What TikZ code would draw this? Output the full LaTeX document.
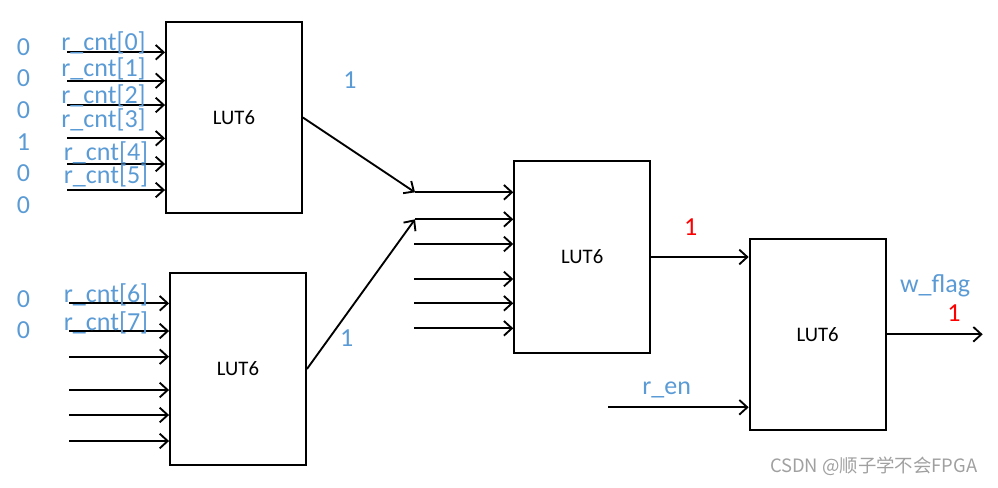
\documentclass[tikz,border=0pt]{standalone}
\usepackage{fontspec}
\setmainfont{Carlito}
\newfontfamily\cjkfont{Noto Sans CJK SC}
\usetikzlibrary{arrows.meta}
\definecolor{sigblue}{RGB}{91,155,213}
\definecolor{wmgray}{RGB}{160,160,160}
\tikzset{
  lutbox/.style={draw, line width=1.4pt, inner sep=0pt, minimum width=102pt, minimum height=143.5pt, font=\fontsize{15.5}{18}\selectfont},
  arr/.style={line width=1.4pt, -{Straight Barb[length=6pt,width=11pt,line width=1.4pt]}},
  sig/.style={inner sep=0pt, text=sigblue, font=\fontsize{19.5}{22}\selectfont},
  bit/.style={inner sep=0pt, text=sigblue, font=\fontsize{19.5}{22}\selectfont},
  redbit/.style={inner sep=0pt, text=red, font=\fontsize{19.5}{22}\selectfont},
}
\begin{document}
\begin{tikzpicture}[x=0.75pt,y=-0.75pt]
\useasboundingbox (0,0) rectangle (998,487);
% boxes
\node[lutbox] (b1) at (234,117.5) {LUT6};
\node[lutbox] (b2) at (238,369) {LUT6};
\node[lutbox] (b3) at (582.2,257) {LUT6};
\node[lutbox] (b4) at (817.6,334.3) {LUT6};

% box1 inputs
\foreach \y [count=\i] in {52.3,80.7,105,138.3,164,190}{
  \coordinate (a\i) at (67,\y);
  \draw[arr] (a\i) -- (a\i -| b1.west);
}
% box2 inputs
\foreach \y [count=\i] in {303.3,331,356.7,390,415,441}{
  \coordinate (c\i) at (69.3,\y);
  \draw[arr] (c\i) -- (c\i -| b2.west);
}
% box3 inputs
\foreach \y/\x [count=\i] in {192.3/415,219.3/415,244/414,279/414,303.3/414,328.3/414}{
  \coordinate (d\i) at (\x,\y);
  \draw[arr] (d\i) -- (d\i -| b3.west);
}
% diagonals
\draw[arr] (b1.east) -- (d1);
\draw[arr] (b2.east) -- (d2);
% box3 -> box4
\draw[arr] (b3.east) -- (b3.east -| b4.west);
\coordinate (ren) at (608,407.3);
\draw[arr] (ren) -- (ren -| b4.west);
\coordinate (out) at (982.7,334.3);
\draw[arr] (b4.east) -- (out);

% labels
\node[sig] (l0) at (103.5,43) {r\_cnt[0]};
\node[sig] (l1) at (103.5,69) {r\_cnt[1]};
\node[sig] (l2) at (103.5,96) {r\_cnt[2]};
\node[sig] (l3) at (103.5,119.5) {r\_cnt[3]};
\node[sig] (l4) at (106,152.5) {r\_cnt[4]};
\node[sig] (l5) at (106,175.5) {r\_cnt[5]};
\node[sig] (l6) at (106,295) {r\_cnt[6]};
\node[sig] (l7) at (106,323) {r\_cnt[7]};

\node[bit] (z0) at (23.5,46.7) {0};
\node[bit] (z1) at (23.5,78) {0};
\node[bit] (z2) at (23.5,110) {0};
\node[bit] (z3) at (23.5,142.5) {1};
\node[bit] (z4) at (23.5,173.3) {0};
\node[bit] (z5) at (23.5,204.7) {0};
\node[bit] (z6) at (23.5,299) {0};
\node[bit] (z7) at (23.5,330) {0};

\node[bit] (o1) at (350,80) {1};
\node[bit] (o2) at (346.7,338) {1};
\node[redbit] (o3) at (690.7,226.7) {1};
\node[redbit] (o4) at (954,313.3) {1};
\node[sig] (ren-l) at (666.7,390) {r\_en};
\node[sig] (wf) at (935,286) {w\_flag};

\node[inner sep=0pt, text=wmgray, font=\cjkfont\fontsize{13.8}{16}\selectfont] (wm) at (873.7,466.7) {CSDN @顺子学不会FPGA};
\end{tikzpicture}
\end{document}
